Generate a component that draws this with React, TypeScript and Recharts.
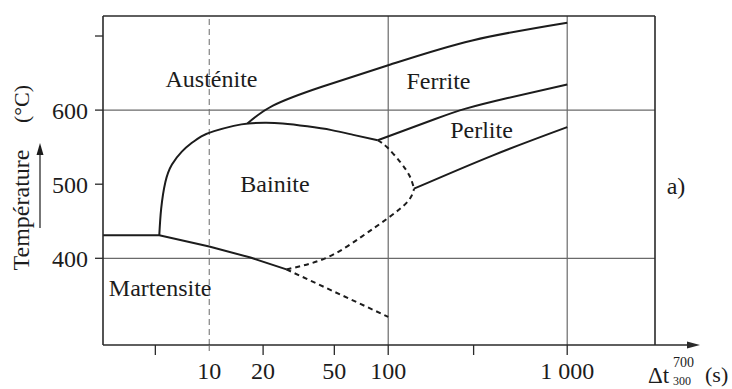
import { ComposedChart, Line, ReferenceDot, ReferenceLine, XAxis, YAxis } from "recharts";

/*
 * CCT diagram (Austénite / Ferrite / Perlite / Bainite / Martensite) against
 * the cooling time Δt 700→300 on a log axis. Lines drawn by the chart scales.
 */

type Pt = { t: number; T: number };

const INK = "#1c1c1c";
const FRAME = "#2a2a2a";
const GRID = "#6a6a6a";
const SERIF = "'Liberation Serif', 'Times New Roman', serif";

// --- axes ------------------------------------------------------------------

const DT_DOMAIN: [number, number] = [2.55, 3094];
const T_DOMAIN: [number, number] = [283, 727];

const X_TICKS = [5, 10, 20, 50, 100, 300, 1000];
const X_TICK_LABELS: Record<number, string> = { 10: "10", 20: "20", 50: "50", 100: "100", 1000: "1 000" };
const Y_TICKS = [400, 500, 600, 700];
const Y_TICK_LABELS: Record<number, string> = { 400: "400", 500: "500", 600: "600" };

const GRID_T = [400, 600];
const GRID_DT = [100, 1000];
const DASHED_DT = 10;

// --- transformation curves (t in s, T in °C) -------------------------------

const martensiteStart: Pt[] = [
  { t: 2.55, T: 431 },
  { t: 5.26, T: 431 },
  { t: 10, T: 416 },
  { t: 17, T: 401 },
  { t: 27, T: 385 },
];

const bainiteStart: Pt[] = [
  { t: 5.26, T: 431 },
  { t: 5.39, T: 467 },
  { t: 5.69, T: 503 },
  { t: 6.19, T: 526.5 },
  { t: 7.03, T: 544 },
  { t: 7.97, T: 555.5 },
  { t: 9.04, T: 564.7 },
  { t: 10.65, T: 571.6 },
  { t: 13.7, T: 578.7 },
  { t: 16.55, T: 582 },
  { t: 20.5, T: 582.8 },
  { t: 25.7, T: 581.9 },
  { t: 35.3, T: 578.1 },
  { t: 48.3, T: 573 },
  { t: 63.8, T: 566.6 },
  { t: 87.4, T: 559.3 },
];

const bainiteEndUpper: Pt[] = [
  { t: 87.4, T: 559.3 },
  { t: 99, T: 549.5 },
  { t: 117.5, T: 529 },
  { t: 131.8, T: 511 },
  { t: 139.4, T: 494 },
];

const bainiteEndLower: Pt[] = [
  { t: 27, T: 385 },
  { t: 45.5, T: 401 },
  { t: 70.8, T: 429 },
  { t: 100, T: 454.5 },
  { t: 128.9, T: 477 },
  { t: 139.4, T: 494 },
];

const martensiteEnd: Pt[] = [
  { t: 27, T: 385 },
  { t: 100, T: 321 },
];

const ferriteStart: Pt[] = [
  { t: 16.35, T: 582 },
  { t: 22.7, T: 606 },
  { t: 42.6, T: 631.5 },
  { t: 103, T: 661.5 },
  { t: 295, T: 694 },
  { t: 1000, T: 718 },
];

const perliteStart: Pt[] = [
  { t: 87.4, T: 559.3 },
  { t: 183, T: 588 },
  { t: 271, T: 602 },
  { t: 459, T: 616 },
  { t: 1000, T: 634.5 },
];

const perliteEnd: Pt[] = [
  { t: 139.4, T: 494 },
  { t: 385, T: 539 },
  { t: 1000, T: 577 },
];

const REGION_LABELS = [
  { name: "Austénite", t: 10.3, T: 643 },
  { name: "Bainite", t: 23.3, T: 501 },
  { name: "Ferrite", t: 191, T: 640.5 },
  { name: "Perlite", t: 332, T: 573.5 },
  { name: "Martensite", t: 5.32, T: 360 },
  { name: "a)", t: 4055, T: 498 },
];

const X_TICK_SIZE = 10;
const X_TICK_MARGIN = 7;

function XTick({ x, y, payload }: any) {
  const v = payload.value as number;
  const top = y - X_TICK_SIZE - X_TICK_MARGIN;
  const label = X_TICK_LABELS[v];
  return (
    <g>
      <line
        x1={x}
        x2={x}
        y1={top}
        y2={top + X_TICK_SIZE}
        stroke={v === DASHED_DT ? GRID : FRAME}
        strokeWidth={v === DASHED_DT ? 1 : 1.3}
        strokeDasharray={v === DASHED_DT ? "6 4" : undefined}
      />
      {label ? (
        <text x={x} y={y} dy="0.71em" textAnchor="middle" fill={INK} fontSize={24} fontFamily={SERIF}>
          {label}
        </text>
      ) : null}
    </g>
  );
}

// bottom frame line continued into an arrow, with the Δt title
function XAxisTitle({ viewBox }: any) {
  const { x, y, width } = viewBox;
  const end = x + width + 45;
  return (
    <g fontFamily={SERIF} fill={INK}>
      <line x1={x} y1={y} x2={end - 6} y2={y} stroke={FRAME} strokeWidth={1.6} />
      <polygon points={`${end},${y} ${end - 13},${y - 3.5} ${end - 13},${y + 3.5}`} fill={FRAME} />
      <text x={x + width - 7} y={y + 38} fontSize={23}>
        Δt
      </text>
      <text x={x + width + 18} y={y + 22} fontSize={14}>
        700
      </text>
      <text x={x + width + 18} y={y + 40} fontSize={12}>
        300
      </text>
      <text x={x + width + 50} y={y + 37} fontSize={22}>
        (s)
      </text>
    </g>
  );
}

function YAxisTitle({ viewBox }: any) {
  const x0 = viewBox?.x ?? 0;
  const bx = x0 + 29;
  const ax = x0 + 40;
  return (
    <g fontFamily={SERIF} fill={INK}>
      <text x={bx} y={210} fontSize={24} textAnchor="middle" transform={`rotate(-90, ${bx}, 210)`}>
        Température
      </text>
      <text x={bx} y={104} fontSize={22} textAnchor="middle" transform={`rotate(-90, ${bx}, 104)`}>
        (°C)
      </text>
      <line x1={ax} y1={228} x2={ax} y2={152} stroke={INK} strokeWidth={1.2} />
      <polygon points={`${ax},${143} ${ax - 3.5},${155} ${ax + 3.5},${155}`} fill={INK} />
    </g>
  );
}

const curve = (data: Pt[], dashed: boolean, type: "natural" | "linear" = "natural") => ({
  data,
  dataKey: "T",
  type,
  stroke: INK,
  strokeWidth: 2,
  strokeDasharray: dashed ? "5 4" : undefined,
  dot: false,
  activeDot: false,
  isAnimationActive: false,
  legendType: "none" as const,
});

export default function App() {
  return (
    <div style={{ position: "absolute", left: 0, top: 0, width: 732, height: 389, background: "#fff", fontFamily: SERIF }}>
      <ComposedChart width={732} height={389} margin={{ top: 16, right: 77, bottom: 0, left: 0 }}>
        <XAxis
          type="number"
          dataKey="t"
          scale="log"
          domain={DT_DOMAIN}
          allowDataOverflow
          ticks={X_TICKS}
          interval={0}
          height={44}
          axisLine={false}
          tickLine={false}
          tickSize={X_TICK_SIZE}
          tickMargin={X_TICK_MARGIN}
          tick={<XTick />}
          label={<XAxisTitle />}
        />
        <YAxis
          type="number"
          dataKey="T"
          domain={T_DOMAIN}
          allowDataOverflow
          ticks={Y_TICKS}
          interval={0}
          width={103}
          tickSize={8}
          tickMargin={7}
          axisLine={{ stroke: FRAME, strokeWidth: 1.6 }}
          tickLine={{ stroke: FRAME, strokeWidth: 1.3 }}
          tick={{ fill: INK, fontSize: 24, fontFamily: SERIF }}
          tickFormatter={(v: number) => Y_TICK_LABELS[v] ?? ""}
          label={<YAxisTitle />}
        />

        {GRID_T.map((v) => (
          <ReferenceLine key={`gy${v}`} y={v} stroke={GRID} strokeWidth={1.2} ifOverflow="visible" />
        ))}
        {GRID_DT.map((v) => (
          <ReferenceLine key={`gx${v}`} x={v} stroke={GRID} strokeWidth={1.2} ifOverflow="visible" />
        ))}
        <ReferenceLine x={DASHED_DT} stroke={GRID} strokeWidth={1} strokeDasharray="6 4" ifOverflow="visible" />
        <ReferenceLine y={T_DOMAIN[1]} stroke={FRAME} strokeWidth={1.6} ifOverflow="visible" />
        <ReferenceLine x={DT_DOMAIN[1]} stroke={FRAME} strokeWidth={1.6} ifOverflow="visible" />

        <Line {...curve(martensiteStart, false, "linear")} />
        <Line {...curve(bainiteStart, false)} />
        <Line {...curve(ferriteStart, false)} />
        <Line {...curve(perliteStart, false)} />
        <Line {...curve(perliteEnd, false)} />
        <Line {...curve(bainiteEndUpper, true)} />
        <Line {...curve(bainiteEndLower, true)} />
        <Line {...curve(martensiteEnd, true, "linear")} />

        {REGION_LABELS.map((l) => (
          <ReferenceDot
            key={l.name}
            x={l.t}
            y={l.T}
            r={0}
            fill="none"
            stroke="none"
            ifOverflow="visible"
            label={{ value: l.name, position: "center", fill: INK, fontSize: 24, fontFamily: SERIF }}
          />
        ))}
      </ComposedChart>
    </div>
  );
}
